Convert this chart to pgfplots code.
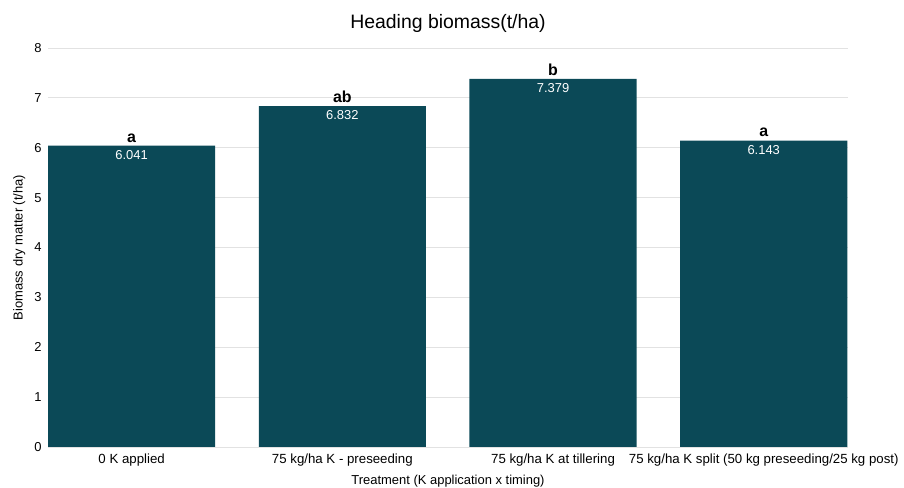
\documentclass[border=0pt]{standalone}
\usepackage{fontspec}
\setmainfont{Liberation Sans}
\usepackage{pgfplots}
\pgfplotsset{compat=1.18}
\usepackage{pgfplotstable}
\definecolor{barc}{RGB}{11,73,87}
\definecolor{gridc}{RGB}{226,226,226}
\pgfplotstableread{
x y l
0 6.041 a
1 6.832 ab
2 7.379 b
3 6.143 a
}\data
\begin{document}
\begin{tikzpicture}
\begin{axis}[
  name=ax,
  scale only axis,
  width=800bp, height=399bp,
  xmin=-0.397, xmax=3.40,
  ymin=0, ymax=8,
  ytick={0,1,...,8},
  xtick={0,1,2,3},
  xticklabels={0 K applied, 75 kg/ha K - preseeding, 75 kg/ha K at tillering, 75 kg/ha K split (50 kg preseeding/25 kg post)},
  axis line style={draw=none},
  major tick length=0pt,
  ymajorgrids, grid style={gridc, line width=0.8pt},
  yticklabel style={font=\fontsize{13}{15}\selectfont, xshift=-3bp},
  xticklabel style={font=\fontsize{13.3}{15}\selectfont, yshift=-3bp},
  /pgf/number format/assume math mode=true,
  title={Heading biomass(t/ha)},
  title style={font=\fontsize{19.5}{22}\selectfont, yshift=6bp},
  xlabel={Treatment (K application x timing)},
  ylabel={Biomass dry matter (t/ha)},
  xlabel style={font=\fontsize{13}{15}\selectfont, yshift=-2bp},
  ylabel style={font=\fontsize{13}{15}\selectfont, yshift=2bp},
  clip=false,
]
\addplot[ybar, bar width=0.793, bar shift=0pt, fill=barc, draw=none,
  nodes near coords, nodes near coords align={below},
  every node near coord/.append style={font=\fontsize{13}{15}\selectfont, text=white, anchor=north, yshift=-1bp},
  point meta=explicit, /pgf/number format/.cd, fixed, precision=3, fixed zerofill]
  table[x=x, y=y, meta=y] {\data};
\addplot[draw=none, mark=none,
  nodes near coords, point meta=explicit symbolic,
  every node near coord/.append style={font=\bfseries\fontsize{16}{18}\selectfont, text=black, anchor=south, yshift=0bp}]
  table[x=x, y=y, meta=l] {\data};
\end{axis}
\pgfresetboundingbox
\path ([shift={(-48bp,-41bp)}]ax.south west) rectangle ([shift={(56bp,48bp)}]ax.north east);
\end{tikzpicture}
\end{document}
